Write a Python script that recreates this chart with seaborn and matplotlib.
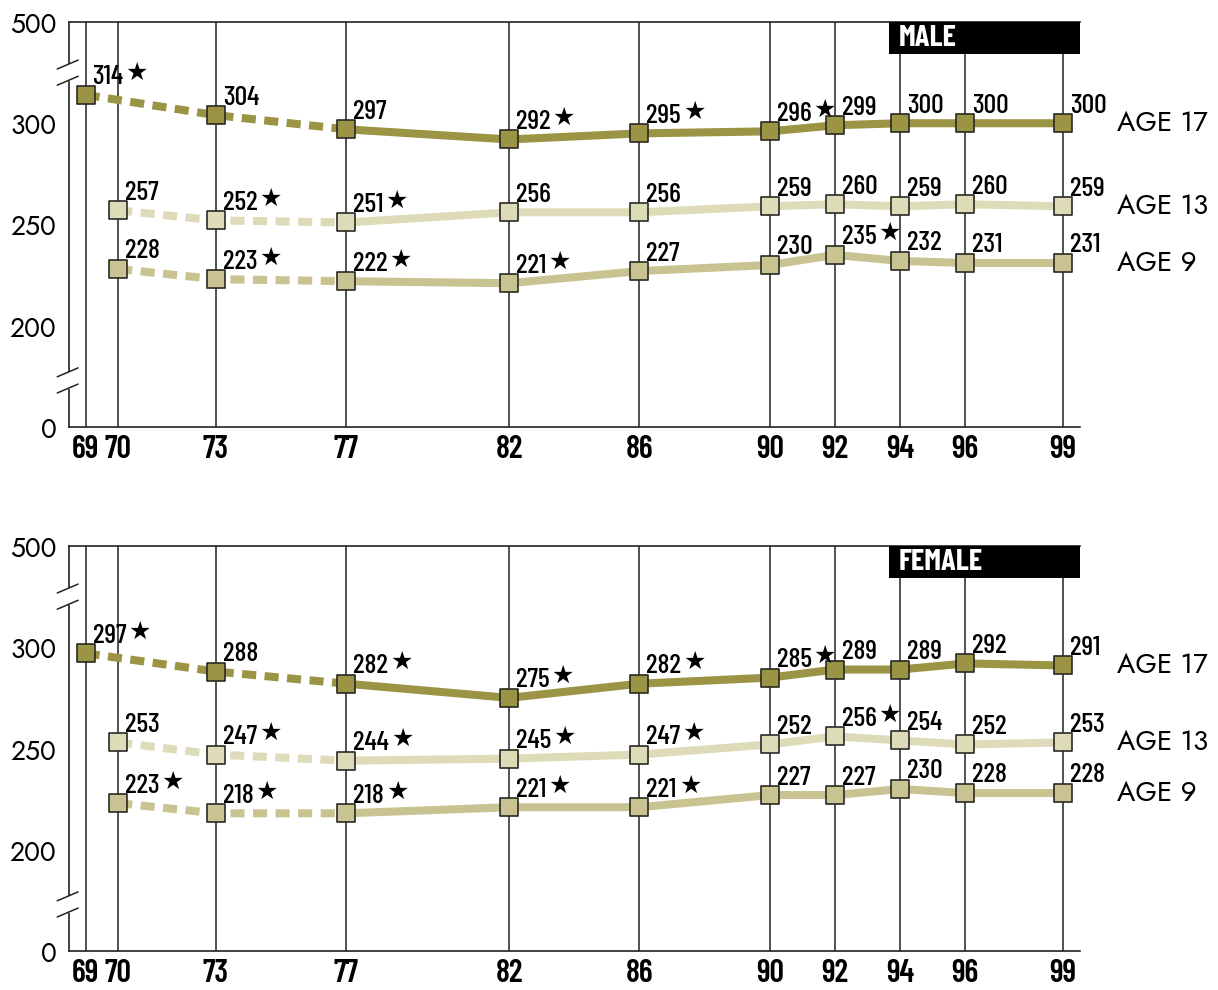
import pandas as pd
import seaborn as sns
import matplotlib.pyplot as plt
from matplotlib import font_manager
from matplotlib.patches import Rectangle
from matplotlib.ticker import MultipleLocator

# x axis years shown on both panels
years = [69, 70, 73, 77, 82, 86, 90, 92, 94, 96, 99]
year_labels = ['69', '70', '73', '77', '82', '86', '90', '92', '94', '96', '99']

# age 17 starts in 69, ages 13 and 9 start in 70
yrs_17 = [69, 73, 77, 82, 86, 90, 92, 94, 96, 99]
yrs_13_9 = [70, 73, 77, 82, 86, 90, 92, 94, 96, 99]

male_17 = [314, 304, 297, 292, 295, 296, 299, 300, 300, 300]
male_13 = [257, 252, 251, 256, 256, 259, 260, 259, 260, 259]
male_9 = [228, 223, 222, 221, 227, 230, 235, 232, 231, 231]
male_17_star = [1, 0, 0, 1, 1, 1, 0, 0, 0, 0]
male_13_star = [0, 1, 1, 0, 0, 0, 0, 0, 0, 0]
male_9_star = [0, 1, 1, 1, 0, 0, 1, 0, 0, 0]

female_17 = [297, 288, 282, 275, 282, 285, 289, 289, 292, 291]
female_13 = [253, 247, 244, 245, 247, 252, 256, 254, 252, 253]
female_9 = [223, 218, 218, 221, 221, 227, 227, 230, 228, 228]
female_17_star = [1, 0, 1, 1, 1, 1, 0, 0, 0, 0]
female_13_star = [0, 1, 1, 1, 1, 0, 1, 0, 0, 0]
female_9_star = [1, 1, 1, 1, 1, 0, 0, 0, 0, 0]

# broken y axis: 0 and 500 are drawn at 150 and 350
ytick_pos = [150, 200, 250, 300, 350]
ytick_labels = ['0', '200', '250', '300', '500']

c17, c13, c9 = '#9a9444', '#dedcb8', '#c8c390'
edge = '#2a2a24'
ink = '#222222'

sns.set_style('white')

# use installed faces only, narrow one for the numbers
installed = {f.name for f in font_manager.fontManager.ttflist}
text_font = [n for n in ['Jost', 'Futura', 'Lato'] if n in installed] + ['DejaVu Sans']
num_font = [n for n in ['Barlow Condensed', 'Archivo Narrow', 'Asap Condensed',
                        'Liberation Sans Narrow'] if n in installed] + ['DejaVu Sans']
plt.rcParams['font.family'] = text_font
plt.rcParams['font.weight'] = 'medium'

fig = plt.figure(figsize=(12.18, 9.9), dpi=100)


def draw_series(ax, yrs, vals, stars, color):
    split = yrs.index(77)
    sns.lineplot(x=yrs[:split + 1], y=vals[:split + 1], ax=ax, color=color, lw=5.8,
                 linestyle=(0, (1.75, 1.05)), solid_capstyle='butt', dash_capstyle='butt', zorder=3)
    sns.lineplot(x=yrs[split:], y=vals[split:], ax=ax, color=color, lw=5.8,
                 solid_capstyle='butt', zorder=3)
    sns.scatterplot(x=yrs, y=vals, ax=ax, marker='s', s=150, color=color,
                    edgecolor=edge, linewidth=1.2, zorder=5)
    for x, v, st in zip(yrs, vals, stars):
        t = ax.annotate(str(v), xy=(x, v), xytext=(5, 4), textcoords='offset points',
                        ha='left', va='bottom', fontsize=20, family=num_font,
                        fontweight='medium', color='black', zorder=6)
        if st:
            ax.annotate('★', xy=(1, 1), xycoords=t, xytext=(1.5, 3), textcoords='offset points',
                        ha='left', va='top', fontsize=18, family='DejaVu Sans', color='black',
                        zorder=6)


def draw_panel(rect, title, s17, s13, s9, st17, st13, st9):
    ax = fig.add_axes(rect)
    for x in years:
        ax.axvline(x, color=ink, lw=1.1, zorder=1)
    draw_series(ax, yrs_17, s17, st17, c17)
    draw_series(ax, yrs_13_9, s13, st13, c13)
    draw_series(ax, yrs_13_9, s9, st9, c9)

    for lab, yrs, vals in [('AGE 17', yrs_17, s17), ('AGE 13', yrs_13_9, s13), ('AGE 9', yrs_13_9, s9)]:
        ax.annotate(lab, xy=(yrs[-1], vals[-1]), xytext=(39, 0), textcoords='offset points',
                    ha='left', va='center', fontsize=20, color='black', annotation_clip=False)

    ax.set_xlim(68.49, 99.52)
    ax.set_ylim(150, 350)
    ax.set_xticks(years)
    ax.set_xticklabels(year_labels, fontsize=23, fontweight='semibold', family=num_font)
    ax.xaxis.set_minor_locator(MultipleLocator(1))
    ax.tick_params(axis='x', which='major', length=0, pad=6, labelcolor='black')
    ax.tick_params(axis='x', which='minor', direction='in', length=7, width=1.1, color=ink)
    ax.set_yticks(ytick_pos)
    ax.set_yticklabels(ytick_labels, fontsize=19)
    ax.tick_params(axis='y', direction='in', length=17, width=1.1, color=ink, pad=9,
                   labelcolor='black')
    ax.set_xlabel('')
    ax.set_ylabel('')
    for side in ['left', 'top', 'bottom']:
        ax.spines[side].set_color(ink)
        ax.spines[side].set_linewidth(1.2)
    ax.spines['right'].set_visible(False)

    # axis break marks
    for y0 in (325, 173):
        ax.add_patch(Rectangle((68.2, y0 - 4.2), 0.6, 8.4, facecolor='white', edgecolor='none',
                               clip_on=False, zorder=4))
        for dy in (-4, 4):
            ax.plot([68.13, 68.77], [y0 + dy - 2.2, y0 + dy + 2.2], color=ink, lw=1.1,
                    clip_on=False, zorder=5)

    # title tag
    ax.add_patch(Rectangle((93.65, 334.2), 99.52 - 93.65, 15.8, facecolor='black',
                           edgecolor='none', zorder=7, clip_on=False))
    ax.text(93.95, 342, title, color='white', fontsize=22, fontweight='bold',
            family=num_font, ha='left', va='center', zorder=8)
    return ax


draw_panel([69 / 1218, 1 - 427 / 990, 1011 / 1218, 405 / 990], 'MALE',
           male_17, male_13, male_9, male_17_star, male_13_star, male_9_star)
draw_panel([69 / 1218, 1 - 951 / 990, 1011 / 1218, 405 / 990], 'FEMALE',
           female_17, female_13, female_9, female_17_star, female_13_star, female_9_star)

plt.savefig('out.png', dpi=100, facecolor='w')
